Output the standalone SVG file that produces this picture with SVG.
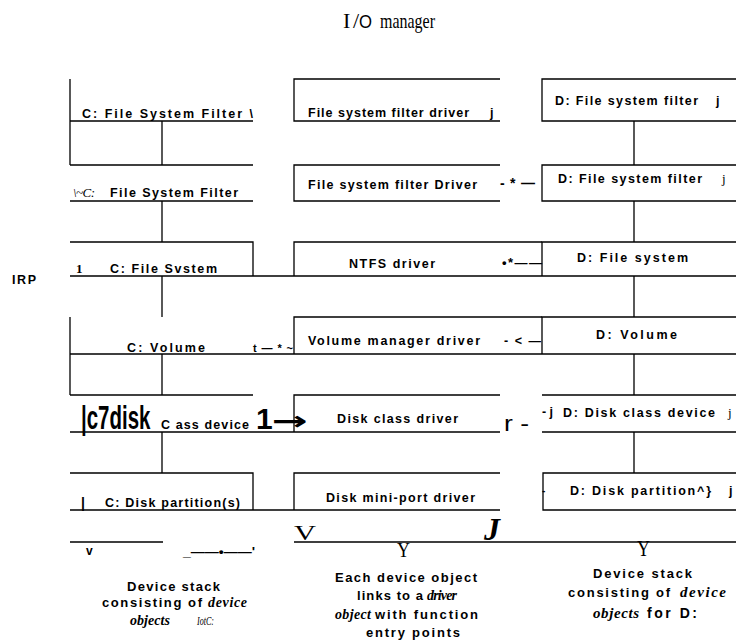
<svg xmlns="http://www.w3.org/2000/svg" width="736" height="644" viewBox="0 0 736 644">
<style>
.ln{stroke:#000;stroke-width:1.3;fill:none}
.b{font-family:"Liberation Sans",Arial,sans-serif;font-weight:bold;font-size:12.5px;fill:#000}
.cap{font-family:"Liberation Sans",Arial,sans-serif;font-weight:bold;font-size:13px;fill:#000}
.si{font-family:"Liberation Serif","Times New Roman",serif;font-style:italic;font-weight:bold;font-size:14px;fill:#000}
.sr{font-family:"Liberation Serif","Times New Roman",serif;font-size:13px;fill:#000}
</style>
<rect width="736" height="644" fill="#fff"/>

<g id="title">
<text x="343" y="28" class="sr" style="font-size:22px" textLength="16">I/</text>
<text x="359" y="28" style="font-family:'Liberation Sans',Arial,sans-serif;font-size:18px" textLength="13" lengthAdjust="spacingAndGlyphs">O</text>
<text x="380" y="28" class="sr" style="font-size:21px" textLength="55" lengthAdjust="spacingAndGlyphs">manager</text>
</g>

<text x="12" y="284" class="b" textLength="24">IRP</text>

<!-- left stack (C:) -->
<g id="c-fs-filter-1">
<path class="ln" d="M70,79V165M70,121H253M70,165H253"/>
<text x="82" y="118" class="b" textLength="171">C: File System Filter  \</text>
</g>
<g id="c-fs-filter-2">
<path class="ln" d="M70,201H253"/>
<text x="73" y="197" class="si" style="font-weight:normal;font-size:13px" textLength="22">\~C:</text>
<text x="110" y="197" class="b" textLength="128">File System Filter</text>
</g>
<g id="c-fs">
<path class="ln" d="M70,242H253V276"/>
<text x="76" y="273" class="sr" style="font-weight:bold">1</text>
<text x="110" y="273" class="b" textLength="107">C: File Svstem</text>
</g>
<g id="c-volume">
<path class="ln" d="M70,317V395"/>
<text x="127" y="352" class="b" textLength="78">C: Volume</text>
</g>
<g id="c-disk">
<path class="ln" d="M70,395H253"/>
<text transform="translate(81,429) scale(0.62,1)" x="0" y="0" style="font-family:'Liberation Sans',Arial,sans-serif;font-weight:bold;font-size:33px">|c7disk</text>
<text x="161" y="429" class="b" textLength="88">C ass device</text>
</g>
<g id="c-partition">
<path class="ln" d="M70,473H253V510"/>
<text x="81" y="508" class="b" style="font-size:14px">|</text>
<text x="105" y="507" class="b" textLength="135">C: Disk partition(s)</text>
</g>

<!-- middle (drivers) -->
<g id="fsf-driver-1">
<path class="ln" d="M500,79H294V121H500"/>
<text x="308" y="117" class="b" textLength="161">File system filter driver</text>
<text x="490" y="117" class="b">j</text>
</g>
<g id="fsf-driver-2">
<path class="ln" d="M500,165H294V201H500"/>
<text x="308" y="189" class="b" textLength="169">File system filter Driver</text>
</g>
<g id="ntfs-driver">
<path class="ln" d="M294,276V242H542"/>
<text x="349" y="268" class="b" textLength="86">NTFS driver</text>
</g>
<g id="volmgr-driver">
<path class="ln" d="M294,354V317H542"/>
<text x="308" y="345" class="b" textLength="172">Volume manager driver</text>
</g>
<g id="diskclass-driver">
<path class="ln" d="M500,395H294V432"/>
<text x="337" y="423" class="b" textLength="121">Disk class driver</text>
</g>
<g id="miniport-driver">
<path class="ln" d="M500,473H294V510"/>
<text x="326" y="502" class="b" textLength="149">Disk mini-port driver</text>
</g>

<!-- right stack (D:) -->
<g id="d-fs-filter-1">
<path class="ln" d="M736,79H542V121H736"/>
<text x="555" y="105" class="b" textLength="143">D: File system filter</text>
<text x="716" y="105" class="b">j</text>
</g>
<g id="d-fs-filter-2">
<path class="ln" d="M736,165H542V201H736"/>
<text x="558" y="183" class="b" textLength="144">D: File system filter</text>
<text x="722" y="183" class="sr">j</text>
</g>
<g id="d-fs">
<path class="ln" d="M736,242H542V276"/>
<text x="577" y="262" class="b" textLength="111">D: File system</text>
</g>
<g id="d-volume">
<path class="ln" d="M736,317H542V354"/>
<text x="596" y="339" class="b" textLength="81">D: Volume</text>
</g>
<g id="d-diskclass">
<path class="ln" d="M542,395H736M542,432H736"/>
<text x="542" y="416" class="b" textLength="11">-j</text>
<text x="563" y="417" class="b" textLength="152">D: Disk class device</text>
<text x="728" y="417" class="sr">j</text>
</g>
<g id="d-partition">
<path class="ln" d="M736,473H543V510H736"/>
<text x="542" y="494" class="b" style="font-size:10px">-</text>
<text x="570" y="495" class="b" textLength="141">D: Disk partition^}</text>
<text x="729" y="495" class="b">j</text>
</g>

<!-- connectors -->
<g id="connectors">
<path class="ln" d="M162,121V165M162,201V242M162,276V317M162,354V395M162,432V473"/>
<path class="ln" d="M634,121V165M634,201V242M634,276V317M634,354V395M634,432V473"/>
<path class="ln" d="M70,276H736M70,354H736M70,432H500M70,510H500M70,542H163M294,542H736"/>
<text x="500" y="188" class="b" style="font-size:14px" textLength="35">-*—</text>
<text x="502" y="267" class="b" style="font-size:13px" textLength="40">•*——</text>
<text x="253" y="352" class="b" style="font-size:11px" textLength="40">t—*~</text>
<text x="504" y="345" class="b" textLength="37">- &lt; —</text>
<text x="256" y="429" style="font-family:'Liberation Sans',sans-serif;font-weight:bold;font-size:30px">1</text>
<text x="272" y="430" style="font-family:'DejaVu Sans',sans-serif;font-weight:bold;font-size:26px" textLength="36" lengthAdjust="spacingAndGlyphs">→</text>
<text x="504" y="431" style="font-family:'Liberation Sans',Arial,sans-serif;font-size:22px" textLength="25" lengthAdjust="spacingAndGlyphs">r -</text>
<text x="86" y="555" class="b" style="font-size:12px">v</text>
<text x="183" y="556" class="b" style="font-size:12px" textLength="72" lengthAdjust="spacingAndGlyphs">_——•——'</text>
<text x="294" y="540" class="sr" style="font-size:22px" textLength="22" lengthAdjust="spacingAndGlyphs">V</text>
<text x="484" y="540" class="si" style="font-size:32px">J</text>
<text x="397" y="557" class="sr" style="font-size:20px" textLength="13" lengthAdjust="spacingAndGlyphs">Y</text>
<text x="637" y="556" class="sr" style="font-size:24px" textLength="13" lengthAdjust="spacingAndGlyphs">Y</text>
</g>

<!-- captions -->
<g id="caption-c">
<text x="127" y="591" class="cap" textLength="93">Device stack</text>
<text x="102" y="607" class="cap" textLength="100">consisting of</text>
<text x="208" y="607" class="si" textLength="39">device</text>
<text x="130" y="625" class="si" textLength="40">objects</text>
<text x="197" y="625" class="si" style="font-weight:normal;font-size:13px" textLength="17" lengthAdjust="spacingAndGlyphs">IotC:</text>
</g>
<g id="caption-driver">
<text x="335" y="582" class="cap" textLength="142">Each device object</text>
<text x="357" y="600" class="cap" textLength="66">links to a</text>
<text x="427" y="600" class="si" textLength="30">driver</text>
<text x="335" y="619" class="si" textLength="36">object</text>
<text x="375" y="619" class="cap" textLength="103">with function</text>
<text x="366" y="637" class="cap" textLength="94">entry points</text>
</g>
<g id="caption-d">
<text x="593" y="578" class="cap" textLength="99">Device stack</text>
<text x="568" y="597" class="cap" textLength="102">consisting of</text>
<text x="680" y="597" class="si" style="font-size:15px" textLength="46">device</text>
<text x="593" y="618" class="si" style="font-size:15px" textLength="46">objects</text>
<text x="647" y="618" class="cap" style="font-size:14px" textLength="50">for D:</text>
</g>
</svg>
